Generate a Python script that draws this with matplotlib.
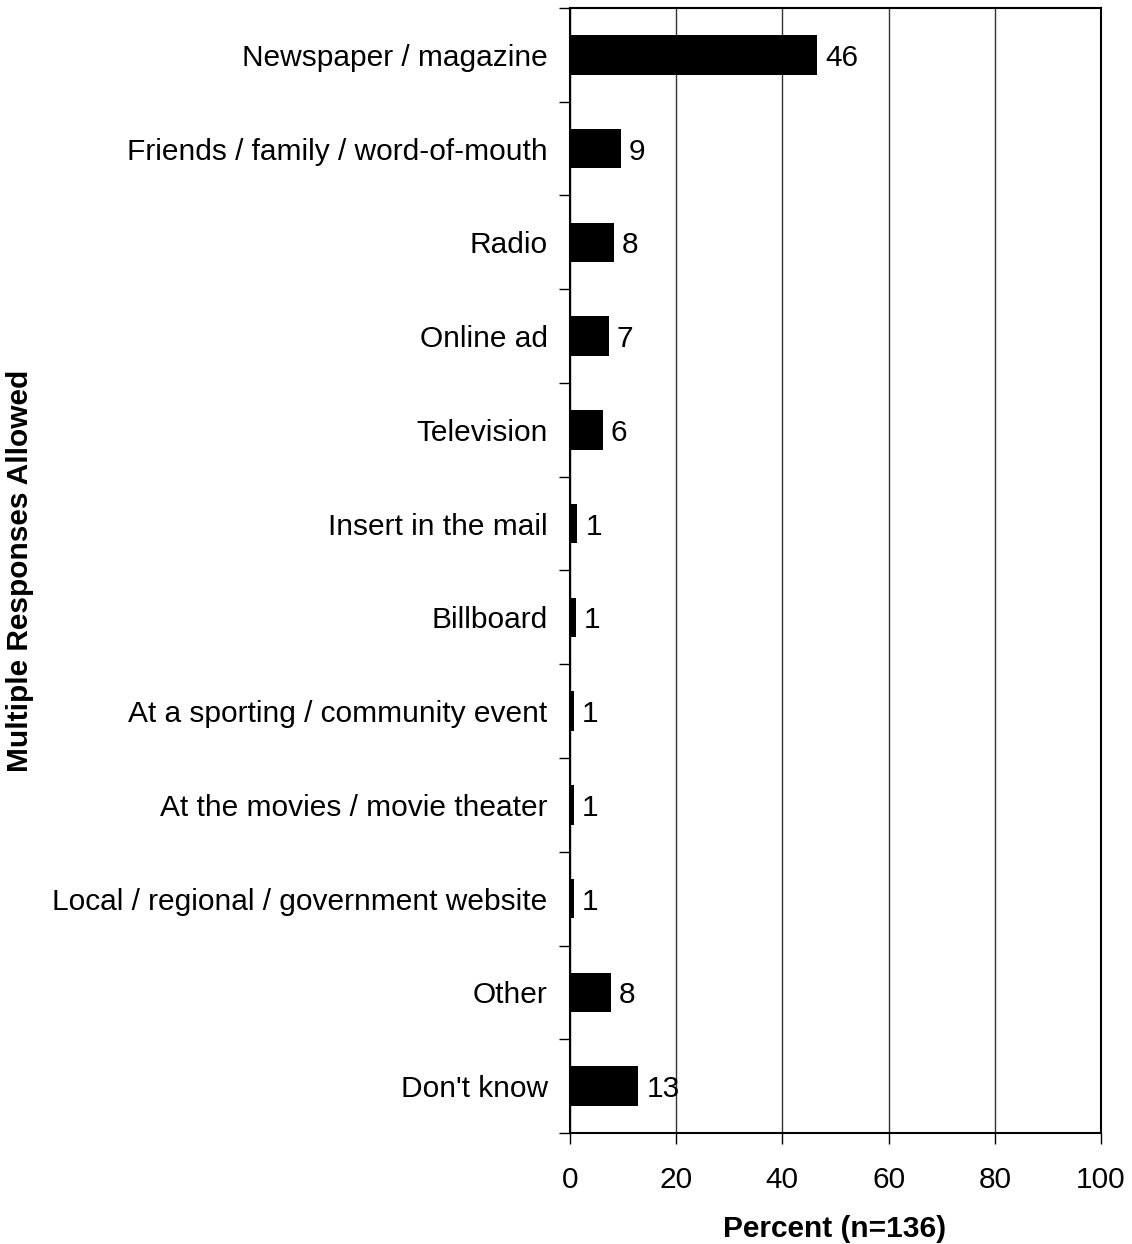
import numpy as np
import matplotlib
matplotlib.use("Agg")
import matplotlib.pyplot as plt

plt.rcParams['font.family'] = ['Liberation Sans', 'DejaVu Sans']

# survey responses, top to bottom
categories = ["Newspaper / magazine", "Friends / family / word-of-mouth", "Radio",
              "Online ad", "Television", "Insert in the mail", "Billboard",
              "At a sporting / community event", "At the movies / movie theater",
              "Local / regional / government website", "Other", "Don't know"]
percent = [46.6, 9.6, 8.3, 7.3, 6.2, 1.4, 1.1, 0.8, 0.8, 0.8, 7.7, 12.9]
labels = ["46", "9", "8", "7", "6", "1", "1", "1", "1", "1", "8", "13"]
xticks = [0, 20, 40, 60, 80, 100]

fs = 21.5
fig = plt.figure(figsize=(11.32, 12.44), dpi=100)
ax = fig.add_axes([0.5035, 0.0892, 0.9726 - 0.5035, 0.9936 - 0.0892])

n = len(categories)
ypos = np.arange(n)
ax.barh(ypos, percent, height=0.42, color='black', zorder=3)
for y, v, t in zip(ypos, percent, labels):
    ax.text(v + 1.5, y, t, va='center_baseline', ha='left', fontsize=fs, zorder=4)

ax.set_xlim(0, 100)
ax.set_ylim(n - 0.5, -0.5)
ax.set_xticks(xticks)
ax.set_xticklabels([str(x) for x in xticks], fontsize=fs)
ax.set_yticks(ypos)
ax.set_yticklabels(categories, fontsize=fs)
ax.tick_params(axis='y', which='major', length=0, pad=16)
ax.set_yticks(np.arange(-0.5, n, 1), minor=True)
ax.tick_params(axis='y', which='minor', length=8, width=1, direction='out')
ax.tick_params(axis='x', length=8, width=1, direction='out', pad=16)

ax.xaxis.grid(True, color='#333333', linewidth=1)
ax.set_axisbelow(True)
for s in ax.spines.values():
    s.set_linewidth(1.5)
    s.set_color('black')

fig.text(835 / 1132, 1 - 1229 / 1244, "Percent (n=136)", fontsize=fs,
         fontweight='bold', ha='center', va='center')
fig.text(20 / 1132, 1 - 571 / 1244, "Multiple Responses Allowed", rotation=90,
         fontsize=fs, fontweight='bold', ha='center', va='center')

fig.savefig("out.png", dpi=100)
